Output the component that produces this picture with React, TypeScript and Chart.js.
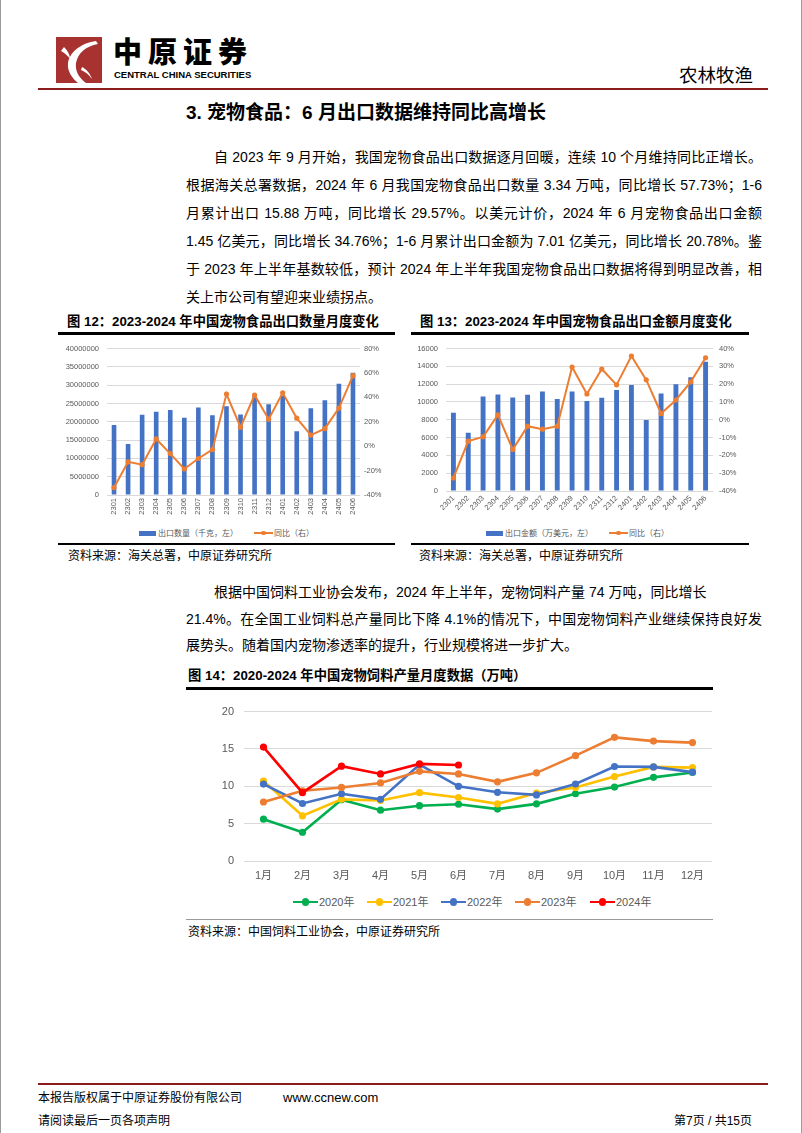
import React, { useEffect, useRef } from "react";
import { Chart, registerables } from "chart.js";

Chart.register(...registerables);

// ---------- data ----------
const exportMonths = ["2301", "2302", "2303", "2304", "2305", "2306", "2307", "2308", "2309", "2310", "2311", "2312", "2401", "2402", "2403", "2404", "2405", "2406"];
const exportQty = [19100000, 13950000, 21900000, 22700000, 23200000, 21100000, 23900000, 21800000, 24200000, 22000000, 26800000, 24800000, 27100000, 17400000, 23700000, 25900000, 30400000, 33400000];
const exportQtyYoy = [-33.9, -12.8, -15.2, 5.9, -6.1, -18.7, -10.1, -2.9, 42.7, 15.5, 41.9, 22.1, 43.7, 22.9, 9.1, 14.4, 31.2, 57.7];
const exportValue = [8800, 6550, 10620, 10840, 10510, 10800, 11160, 10330, 11160, 10110, 10470, 11350, 11890, 7960, 10950, 12000, 12760, 14500];
const exportValueYoy = [-32.7, -12.0, -9.6, 2.7, -16.7, -3.6, -5.3, -3.6, 29.6, 14.5, 28.5, 19.6, 35.8, 22.4, 3.5, 11.1, 21.3, 34.8];

const feedMonths = ["1月", "2月", "3月", "4月", "5月", "6月", "7月", "8月", "9月", "10月", "11月", "12月"];
const feed2020 = [5.6, 3.85, 8.2, 6.8, 7.4, 7.6, 6.95, 7.65, 9.0, 9.9, 11.2, 11.85];
const feed2021 = [10.7, 6.05, 8.25, 8.1, 9.15, 8.5, 7.65, 9.1, 9.85, 11.3, 12.6, 12.5];
const feed2022 = [10.3, 7.7, 9.0, 8.25, 12.9, 10.0, 9.2, 8.85, 10.3, 12.65, 12.6, 11.9];
const feed2023 = [7.9, 9.4, 9.85, 10.45, 12.0, 11.65, 10.6, 11.8, 14.1, 16.55, 16.05, 15.85];
const feed2024 = [15.25, 9.15, 12.7, 11.65, 13.0, 12.85];
const feedSeriesNames = ["2020年", "2021年", "2022年", "2023年", "2024年"];

// ---------- styles ----------
const FONT = '"Liberation Sans", "Noto Sans CJK SC", sans-serif';
const CJK = '"Liberation Sans", "Noto Sans CJK SC", sans-serif';
const AXIS = "#595959";
const GRID = "#D9D9D9";
const BLUE = "#4472C4";
const ORANGE = "#ED7D31";
const FEED_COLORS = ["#00B050", "#FFC000", "#4472C4", "#ED7D31", "#FF0000"];
const MAROON = "#8B1C1C";

function ChartBox(props: { left: number; top: number; width: number; height: number; build: () => any }) {
  const ref = useRef<HTMLCanvasElement>(null);
  useEffect(() => {
    const chart = new Chart(ref.current as HTMLCanvasElement, props.build());
    return () => chart.destroy();
  }, []);
  return (
    <canvas
      ref={ref}
      width={props.width}
      height={props.height}
      style={{ position: "absolute", left: props.left, top: props.top, width: props.width, height: props.height }}
    />
  );
}

function comboConfig(opts: {
  values: number[];
  yoy: number[];
  barLabel: string;
  leftMax: number;
  leftStep: number;
  rightMin: number;
  rightMax: number;
  rightStep: number;
  leftW: number;
  rightW: number;
  leftPad: number;
  rightPad: number;
  xH: number;
  topPad: number;
  rot: number;
}) {
  const tickFont = { family: FONT, size: 7.5 };
  return {
    type: "bar",
    data: {
      labels: exportMonths,
      datasets: [
        {
          type: "line",
          label: "同比（右）",
          data: opts.yoy,
          yAxisID: "y1",
          borderColor: ORANGE,
          backgroundColor: ORANGE,
          borderWidth: 2,
          pointRadius: 2.6,
          pointBackgroundColor: ORANGE,
          pointBorderColor: ORANGE,
          pointBorderWidth: 0,
          tension: 0,
          order: 0,
        },
        {
          type: "bar",
          label: opts.barLabel,
          data: opts.values,
          yAxisID: "y",
          backgroundColor: BLUE,
          barPercentage: 0.33,
          categoryPercentage: 1,
          order: 1,
        },
      ],
    },
    options: {
      animation: false,
      responsive: false,
      devicePixelRatio: 1,
      events: [],
      layout: { padding: { top: opts.topPad, left: 0, right: 0, bottom: 0 } },
      plugins: { legend: { display: false }, tooltip: { enabled: false } },
      scales: {
        x: {
          grid: { display: false, drawTicks: false },
          border: { display: false },
          ticks: { font: tickFont, color: AXIS, minRotation: opts.rot, maxRotation: opts.rot, autoSkip: false, padding: 3 },
          afterFit: (s: any) => {
            s.height = opts.xH;
          },
        },
        y: {
          position: "left",
          min: 0,
          max: opts.leftMax,
          ticks: { stepSize: opts.leftStep, font: tickFont, color: AXIS, padding: opts.leftPad, callback: (v: any) => String(v) },
          grid: { color: GRID, drawTicks: false, lineWidth: 1 },
          border: { display: false },
          afterFit: (s: any) => {
            s.width = opts.leftW;
          },
        },
        y1: {
          position: "right",
          min: opts.rightMin,
          max: opts.rightMax,
          ticks: { stepSize: opts.rightStep, font: tickFont, color: AXIS, padding: opts.rightPad, callback: (v: any) => v + "%" },
          grid: { display: false, drawTicks: false },
          border: { display: false },
          afterFit: (s: any) => {
            s.width = opts.rightW;
          },
        },
      },
    },
  };
}

function feedConfig() {
  const series = [feed2020, feed2021, feed2022, feed2023, feed2024];
  const tickFont = { family: FONT, size: 11 };
  return {
    type: "line",
    data: {
      labels: feedMonths,
      datasets: series.map((d, i) => ({
        label: feedSeriesNames[i],
        data: d,
        borderColor: FEED_COLORS[i],
        backgroundColor: FEED_COLORS[i],
        pointBackgroundColor: FEED_COLORS[i],
        pointBorderColor: FEED_COLORS[i],
        borderWidth: 2.6,
        pointRadius: 3.6,
        pointBorderWidth: 0,
        tension: 0,
        order: series.length - i,
      })),
    },
    options: {
      animation: false,
      responsive: false,
      devicePixelRatio: 1,
      events: [],
      layout: { padding: { top: 12, left: 0, right: 3, bottom: 0 } },
      plugins: { legend: { display: false }, tooltip: { enabled: false } },
      scales: {
        x: {
          offset: true,
          grid: { display: false, drawTicks: false },
          border: { display: false },
          ticks: { font: tickFont, color: AXIS, autoSkip: false, maxRotation: 0, minRotation: 0, padding: 8 },
          afterFit: (s: any) => {
            s.height = 29;
          },
        },
        y: {
          min: 0,
          max: 20,
          ticks: { stepSize: 5, font: tickFont, color: AXIS, padding: 10 },
          grid: { color: GRID, drawTicks: false },
          border: { display: false },
          afterFit: (s: any) => {
            s.width = 58;
          },
        },
      },
    },
  };
}

// ---------- small layout helpers ----------
function Txt(props: { x: number; y: number; size: number; lh?: number; children: any; style?: any }) {
  const lh = props.lh ?? Math.round(props.size * 1.4);
  return (
    <div
      style={{
        position: "absolute",
        left: props.x,
        top: props.y - lh / 2,
        fontSize: props.size,
        lineHeight: lh + "px",
        whiteSpace: "nowrap",
        fontFamily: CJK,
        color: "#000",
        ...(props.style || {}),
      }}
    >
      {props.children}
    </div>
  );
}

function JLine(props: { x: number; y: number; w: number; children: any; justify?: boolean }) {
  return (
    <div
      style={{
        position: "absolute",
        left: props.x,
        top: props.y - 14,
        width: props.w,
        fontSize: 14,
        lineHeight: "28px",
        whiteSpace: "nowrap",
        fontFamily: CJK,
        color: "#000",
        textAlign: props.justify === false ? "left" : "justify",
        textAlignLast: props.justify === false ? "left" : "justify",
      }}
    >
      {props.children}
    </div>
  );
}

function Rule(props: { x: number; y: number; w: number; h: number; color: string }) {
  return <div style={{ position: "absolute", left: props.x, top: props.y, width: props.w, height: props.h, background: props.color }} />;
}

function BarKey(props: { x: number; y: number; label: string }) {
  return (
    <>
      <div style={{ position: "absolute", left: props.x, top: props.y - 2.5, width: 17, height: 5, background: BLUE }} />
      <Txt x={props.x + 19} y={props.y} size={8} style={{ color: AXIS }}>
        {props.label}
      </Txt>
    </>
  );
}

function LineKey(props: { x: number; y: number; w: number; color: string; label: string; size: number; thick: number; r: number }) {
  return (
    <>
      <div style={{ position: "absolute", left: props.x, top: props.y - props.thick / 2, width: props.w, height: props.thick, background: props.color }} />
      <div
        style={{
          position: "absolute",
          left: props.x + props.w / 2 - props.r,
          top: props.y - props.r,
          width: props.r * 2,
          height: props.r * 2,
          borderRadius: "50%",
          background: props.color,
        }}
      />
      <Txt x={props.x + props.w + 1} y={props.y} size={props.size} style={{ color: AXIS }}>
        {props.label}
      </Txt>
    </>
  );
}

function Logo() {
  return (
    <svg style={{ position: "absolute", left: 55, top: 37 }} width={46} height={46} viewBox="0 0 46 46">
      <rect x={0} y={0} width={46} height={46} fill="#A8322F" />
      <path d="M40 4 C26 6 14 14 12 26 C11 34 16 41 22 46 L30 46 C22 40 19 33 20 26 C22 16 30 9 42 7 Z" fill="#fff" />
      <path d="M8 10 C12 14 14 18 14 22 C12 19 9 16 5 14 Z" fill="#fff" />
      <path d="M26 30 C30 32 34 36 36 42 C33 38 30 35 25 33 Z" fill="#fff" />
    </svg>
  );
}

const CAP = 13.3;

export default function App() {
  return (
    <div
      style={{
        position: "absolute",
        left: 0,
        top: 0,
        width: 802,
        height: 1133,
        background: "#fff",
        overflow: "hidden",
        fontFamily: CJK,
        boxSizing: "border-box",
        borderLeft: "1px solid #9a9a9a",
        borderRight: "1px solid #9a9a9a",
      }}
    >
      {/* header */}
      <Logo />
      <Txt x={112} y={53} size={29} lh={32} style={{ fontWeight: 900, letterSpacing: 6 }}>
        中原证券
      </Txt>
      <Txt
        x={113}
        y={74}
        size={9.5}
        lh={11}
        style={{ fontWeight: 700, fontFamily: '"Liberation Sans Narrow", "Liberation Sans", sans-serif', letterSpacing: 0 }}
      >
        CENTRAL CHINA SECURITIES
      </Txt>
      <Txt x={678} y={76} size={18.5} lh={24}>
        农林牧渔
      </Txt>
      <Rule x={37} y={88} w={730} h={2} color={MAROON} />

      {/* section title */}
      <Txt x={185} y={113} size={19} lh={26} style={{ fontWeight: 700 }}>
        3. 宠物食品：6 月出口数据维持同比高增长
      </Txt>

      {/* paragraph 1 */}
      <JLine x={213} y={157} w={548}>自 2023 年 9 月开始，我国宠物食品出口数据逐月回暖，连续 10 个月维持同比正增长。</JLine>
      <JLine x={185} y={185} w={576}>根据海关总署数据，2024 年 6 月我国宠物食品出口数量 3.34 万吨，同比增长 57.73%；1-6</JLine>
      <JLine x={185} y={213} w={576}>月累计出口 15.88 万吨，同比增长 29.57%。以美元计价，2024 年 6 月宠物食品出口金额</JLine>
      <JLine x={185} y={241} w={576}>1.45 亿美元，同比增长 34.76%；1-6 月累计出口金额为 7.01 亿美元，同比增长 20.78%。鉴</JLine>
      <JLine x={185} y={269} w={576}>于 2023 年上半年基数较低，预计 2024 年上半年我国宠物食品出口数据将得到明显改善，相</JLine>
      <JLine x={185} y={297} w={576} justify={false}>关上市公司有望迎来业绩拐点。</JLine>

      {/* figure 12 */}
      <Txt x={66} y={322} size={CAP} lh={18} style={{ fontWeight: 700 }}>
        图 12：2023-2024 年中国宠物食品出口数量月度变化
      </Txt>
      <Rule x={57} y={332} w={337} h={3} color="#000" />
      <ChartBox
        left={57}
        top={336}
        width={337}
        height={190}
        build={() =>
          comboConfig({
            values: exportQty,
            yoy: exportQtyYoy,
            barLabel: "出口数量（千克，左）",
            leftMax: 40000000,
            leftStep: 5000000,
            rightMin: -40,
            rightMax: 80,
            rightStep: 20,
            leftW: 49,
            rightW: 35,
            leftPad: 8,
            rightPad: 4,
            xH: 31,
            topPad: 9,
            rot: 90,
          })
        }
      />
      <BarKey x={138} y={533} label="出口数量（千克，左）" />
      <LineKey x={253} y={533} w={19} color={ORANGE} label="同比（右）" size={8} thick={2} r={2.3} />
      <Rule x={57} y={543} w={337} h={2} color="#000" />
      <Txt x={67} y={556} size={12} lh={16}>
        资料来源：海关总署，中原证券研究所
      </Txt>

      {/* figure 13 */}
      <Txt x={419} y={322} size={CAP} lh={18} style={{ fontWeight: 700 }}>
        图 13：2023-2024 年中国宠物食品出口金额月度变化
      </Txt>
      <Rule x={410} y={332} w={338} h={3} color="#000" />
      <ChartBox
        left={410}
        top={336}
        width={338}
        height={180}
        build={() =>
          comboConfig({
            values: exportValue,
            yoy: exportValueYoy,
            barLabel: "出口金额（万美元，左）",
            leftMax: 16000,
            leftStep: 2000,
            rightMin: -40,
            rightMax: 40,
            rightStep: 10,
            leftW: 35,
            rightW: 36,
            leftPad: 8,
            rightPad: 6,
            xH: 25,
            topPad: 8,
            rot: 45,
          })
        }
      />
      <BarKey x={485} y={533} label="出口金额（万美元，左）" />
      <LineKey x={608} y={533} w={19} color={ORANGE} label="同比（右）" size={8} thick={2} r={2.3} />
      <Rule x={410} y={543} w={338} h={2} color="#000" />
      <Txt x={418} y={556} size={12} lh={16}>
        资料来源：海关总署，中原证券研究所
      </Txt>

      {/* paragraph 2 */}
      <JLine x={213} y={592} w={548} justify={false}>根据中国饲料工业协会发布，2024 年上半年，宠物饲料产量 74 万吨，同比增长</JLine>
      <JLine x={185} y={619} w={576}>21.4%。在全国工业饲料总产量同比下降 4.1%的情况下，中国宠物饲料产业继续保持良好发</JLine>
      <JLine x={185} y={645} w={576} justify={false}>展势头。随着国内宠物渗透率的提升，行业规模将进一步扩大。</JLine>

      {/* figure 14 */}
      <Txt x={187} y={676} size={CAP} lh={18} style={{ fontWeight: 700 }}>
        图 14：2020-2024 年中国宠物饲料产量月度数据（万吨）
      </Txt>
      <Rule x={185} y={687} w={527} h={3} color="#000" />
      <ChartBox left={185} top={695} width={530} height={195} build={feedConfig} />
      {feedSeriesNames.map((n, i) => (
        <LineKey
          key={n}
          x={[292, 366, 440, 514, 589][i]}
          y={902}
          w={25}
          color={FEED_COLORS[i]}
          label={n}
          size={11}
          thick={2.6}
          r={3.6}
        />
      ))}
      <Rule x={185} y={919} w={527} h={1} color="#9a9a9a" />
      <Txt x={187} y={932} size={12} lh={16}>
        资料来源：中国饲料工业协会，中原证券研究所
      </Txt>

      {/* footer */}
      <Rule x={37} y={1083} w={730} h={2} color={MAROON} />
      <Txt x={37} y={1098} size={12} lh={16}>
        本报告版权属于中原证券股份有限公司
      </Txt>
      <Txt x={282} y={1098} size={13} lh={16}>
        www.ccnew.com
      </Txt>
      <Txt x={37} y={1121} size={12} lh={16}>
        请阅读最后一页各项声明
      </Txt>
      <Txt x={673} y={1121} size={12} lh={16}>
        第7页 / 共15页
      </Txt>
    </div>
  );
}
